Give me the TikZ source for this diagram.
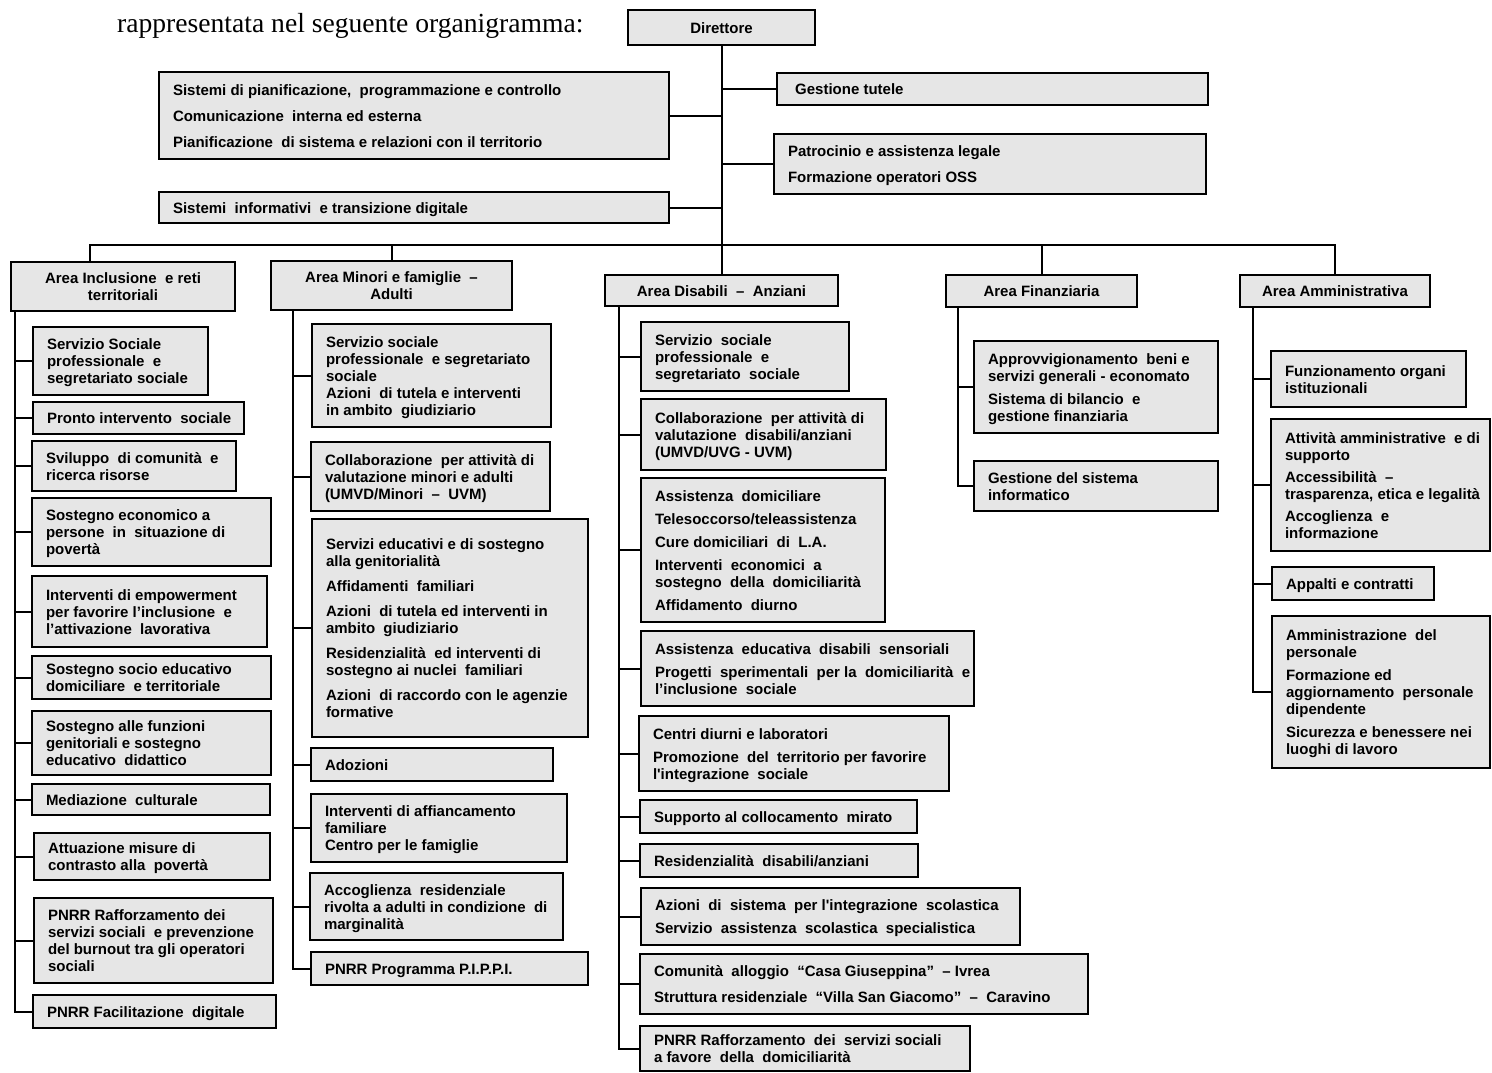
\documentclass[tikz,border=0pt]{standalone}
\usepackage{fontspec}
\setmainfont{Liberation Sans}[Ligatures=TeXOff]
\newfontfamily\introfont{Liberation Serif}
\definecolor{boxgray}{RGB}{230,230,230}
\tikzset{
  obx/.style={draw=black, fill=boxgray, line width=2pt, inner xsep=14pt, inner ysep=0pt,
    font=\bfseries\fontsize{15}{17}\selectfont},
  conn/.style={draw=black, line width=2pt},
}
\newcommand\obox[7][l]{%
  \pgfmathsetmacro\obw{#5-#3}%
  \pgfmathsetmacro\obh{#6-#4}%
  \pgfmathsetmacro\otw{#5-#3-28}%
  \pgfmathsetmacro\ocx{(#3+#5)/2}%
  \pgfmathsetmacro\ocy{(#4+#6)/2}%
  \node[obx, minimum width=\obw pt, minimum height=\obh pt] (#2) at (\ocx,\ocy)
    {\raisebox{-2.5pt}[\height][\depth]{\makebox[\otw pt][#1]{\begin{tabular}{@{}#1@{}}#7\end{tabular}}}};%
}
\begin{document}
\begin{tikzpicture}[x=1pt,y=-1pt]
\useasboundingbox (0,0) rectangle (1492,1073);
\fill[white] (0,0) rectangle (1492,1073);

\node[anchor=base west, inner sep=0pt, font=\introfont\fontsize{27.6}{30}\selectfont] (intro) at (117,33) {rappresentata nel seguente organigramma:};

% top level
\obox[c]{dir}{628}{10}{815}{45}{Direttore}
\obox{t1}{159}{72}{669}{159}{Sistemi di pianificazione,\ \ programmazione e controllo\\[9pt]Comunicazione\ \ interna ed esterna\\[9pt]Pianificazione\ \ di sistema e relazioni con il territorio}
\obox{t2}{159}{192}{669}{223}{Sistemi\ \ informativi\ \ e transizione digitale}
\obox{r1}{777}{73}{1208}{105}{\ Gestione tutele}
\obox{r2}{774}{134}{1206}{194}{Patrocinio e assistenza legale\\[9pt]Formazione operatori OSS}

% area headers
\obox[c]{h1}{11}{262}{235}{311}{Area Inclusione\ \ e reti\\territoriali}
\obox[c]{h2}{271}{261}{512}{310}{Area Minori e famiglie\ \ –\\Adulti}
\obox[c]{h3}{605}{275}{838}{306}{Area Disabili\ \ – \ Anziani}
\obox[c]{h4}{946}{275}{1137}{307}{Area Finanziaria}
\obox[c]{h5}{1240}{275}{1430}{307}{Area Amministrativa}

% column 1
\obox{c1a}{33}{327}{208}{395}{Servizio Sociale\\professionale\ \ e\\segretariato sociale}
\obox{c1b}{33}{402}{244}{434}{Pronto intervento\ \ sociale}
\obox{c1c}{32}{441}{236}{491}{Sviluppo\ \ di comunità\ \ e\\ricerca risorse}
\obox{c1d}{32}{498}{271}{566}{Sostegno economico a\\persone\ \ in\ \ situazione di\\povertà}
\obox{c1e}{32}{576}{267}{647}{Interventi di empowerment\\per favorire l’inclusione\ \ e\\l’attivazione\ \ lavorativa}
\obox{c1f}{32}{656}{271}{699}{Sostegno socio educativo\\domiciliare\ \ e territoriale}
\obox{c1g}{32}{711}{271}{775}{Sostegno alle funzioni\\genitoriali e sostegno\\educativo\ \ didattico}
\obox{c1h}{32}{784}{270}{815}{Mediazione\ \ culturale}
\obox{c1i}{34}{833}{270}{880}{Attuazione misure di\\contrasto alla\ \ povertà}
\obox{c1j}{34}{898}{273}{983}{PNRR Rafforzamento dei\\servizi sociali\ \ e prevenzione\\del burnout tra gli operatori\\sociali}
\obox{c1k}{33}{995}{276}{1028}{PNRR Facilitazione\ \ digitale}

% column 2
\obox{c2a}{312}{324}{551}{427}{Servizio sociale\\professionale\ \ e segretariato\\sociale\\Azioni\ \ di tutela e interventi\\in ambito\ \ giudiziario}
\obox{c2b}{311}{442}{550}{511}{Collaborazione\ \ per attività di\\valutazione minori e adulti\\(UMVD/Minori\ \ – \ UVM)}
\obox{c2c}{312}{519}{588}{737}{Servizi educativi e di sostegno\\alla genitorialità\\[8pt]Affidamenti\ \ familiari\\[8pt]Azioni\ \ di tutela ed interventi in\\ambito\ \ giudiziario\\[8pt]Residenzialità\ \ ed interventi di\\sostegno ai nuclei\ \ familiari\\[8pt]Azioni\ \ di raccordo con le agenzie\\formative}
\obox{c2d}{311}{748}{553}{781}{Adozioni}
\obox{c2e}{311}{794}{567}{862}{Interventi di affiancamento\\familiare\\Centro per le famiglie}
\obox{c2f}{310}{873}{563}{940}{Accoglienza\ \ residenziale\\rivolta a adulti in condizione\ \ di\\marginalità}
\obox{c2g}{311}{952}{588}{985}{PNRR Programma P.I.P.P.I.}

% column 3
\obox{c3a}{641}{322}{849}{391}{Servizio\ \ sociale\\professionale\ \ e\\segretariato\ \ sociale}
\obox{c3b}{641}{399}{886}{470}{Collaborazione\ \ per attività di\\valutazione\ \ disabili/anziani\\(UMVD/UVG - UVM)}
\obox{c3c}{641}{478}{885}{622}{Assistenza\ \ domiciliare\\[6pt]Telesoccorso/teleassistenza\\[6pt]Cure domiciliari\ \ di\ \ L.A.\\[6pt]Interventi\ \ economici\ \ a\\sostegno\ \ della\ \ domiciliarità\\[6pt]Affidamento\ \ diurno}
\obox{c3d}{641}{631}{974}{706}{Assistenza\ \ educativa\ \ disabili\ \ sensoriali\\[6pt]Progetti\ \ sperimentali\ \ per la\ \ domiciliarità\ \ e\\l’inclusione\ \ sociale}
\obox{c3e}{639}{716}{949}{791}{Centri diurni e laboratori\\[6pt]Promozione\ \ del\ \ territorio per favorire\\l'integrazione\ \ sociale}
\obox{c3f}{640}{800}{917}{833}{Supporto al collocamento\ \ mirato}
\obox{c3g}{640}{844}{918}{877}{Residenzialità\ \ disabili/anziani}
\obox{c3h}{641}{888}{1020}{945}{Azioni\ \ di\ \ sistema\ \ per l'integrazione\ \ scolastica\\[6pt]Servizio\ \ assistenza\ \ scolastica\ \ specialistica}
\obox{c3i}{640}{954}{1088}{1014}{Comunità\ \ alloggio\ \ “Casa Giuseppina”\ \ – Ivrea\\[9pt]Struttura residenziale\ \ “Villa San Giacomo”\ \ – \ Caravino}
\obox{c3j}{640}{1026}{970}{1071}{PNRR Rafforzamento\ \ dei\ \ servizi sociali\\a favore\ \ della\ \ domiciliarità}

% column 4
\obox{c4a}{974}{341}{1218}{433}{Approvvigionamento\ \ beni e\\servizi generali - economato\\[6pt]Sistema di bilancio\ \ e\\gestione finanziaria}
\obox{c4b}{974}{461}{1218}{511}{Gestione del sistema\\informatico}

% column 5
\obox{c5a}{1271}{351}{1466}{407}{Funzionamento organi\\istituzionali}
\obox{c5b}{1271}{419}{1490}{551}{Attività amministrative\ \ e di\\supporto\\[5pt]Accessibilità\ \ –\\trasparenza, etica e legalità\\[5pt]Accoglienza\ \ e\\informazione}
\obox{c5c}{1272}{567}{1434}{600}{Appalti e contratti}
\obox{c5d}{1272}{616}{1490}{768}{Amministrazione\ \ del\\personale\\[6pt]Formazione ed\\aggiornamento\ \ personale\\dipendente\\[6pt]Sicurezza e benessere nei\\luoghi di lavoro}

% top connectors
\coordinate (bus) at (90,245);
\draw[conn] (dir.south) -- (dir.south |- bus);
\draw[conn] (t1.east) -- (t1.east -| dir.south);
\draw[conn] (t2.east) -- (t2.east -| dir.south);
\draw[conn] (r1.west) -- (r1.west -| dir.south);
\draw[conn] (r2.west) -- (r2.west -| dir.south);
\draw[conn] (bus |- h1.north) -- (bus) -- (bus -| h5.north) -- (h5.north);
\draw[conn] (bus -| h2.north) -- (h2.north);
\draw[conn] (bus -| h3.north) -- (h3.north);
\draw[conn] (bus -| h4.north) -- (h4.north);

% column spines
\coordinate (v1) at (15,0);
\coordinate (v2) at (293,0);
\coordinate (v3) at (619,0);
\coordinate (v4) at (958,0);
\coordinate (v5) at (1253,0);
\draw[conn] (v1 |- h1.south) |- (c1k.west);
\foreach \b in {c1a,c1b,c1c,c1d,c1e,c1f,c1g,c1h,c1i,c1j}{\draw[conn] (\b.west) -- (\b.west -| v1);}
\draw[conn] (v2 |- h2.south) |- (c2g.west);
\foreach \b in {c2a,c2b,c2c,c2d,c2e,c2f}{\draw[conn] (\b.west) -- (\b.west -| v2);}
\draw[conn] (v3 |- h3.south) |- (c3j.west);
\foreach \b in {c3a,c3b,c3c,c3d,c3e,c3f,c3g,c3h,c3i}{\draw[conn] (\b.west) -- (\b.west -| v3);}
\draw[conn] (v4 |- h4.south) |- (c4b.west);
\draw[conn] (c4a.west) -- (c4a.west -| v4);
\draw[conn] (v5 |- h5.south) |- (c5d.west);
\foreach \b in {c5a,c5b,c5c}{\draw[conn] (\b.west) -- (\b.west -| v5);}
\end{tikzpicture}
\end{document}
